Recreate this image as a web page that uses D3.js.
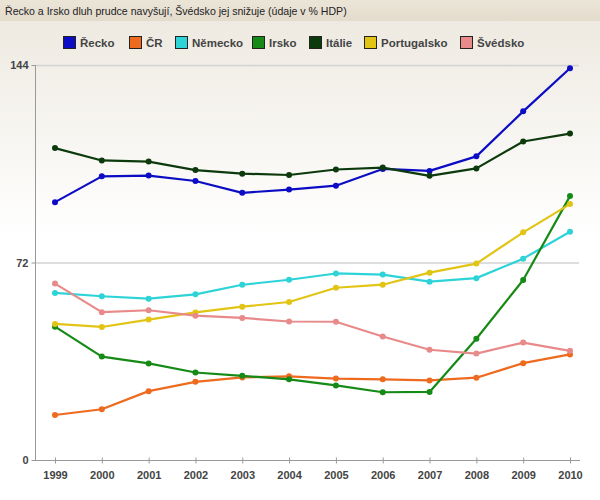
<!DOCTYPE html>
<html><head><meta charset="utf-8">
<script src="https://cdn.jsdelivr.net/npm/d3@7"></script>
<style>body{margin:0;padding:0;background:#fff}svg{display:block}</style>
</head><body>
<script>
const title = "Řecko a Irsko dluh prudce navyšují, Švédsko jej snižuje (údaje v % HDP)";
const years = ["1999","2000","2001","2002","2003","2004","2005","2006","2007","2008","2009","2010"];
const yTicks = [0, 72, 144];
const seriesNames = ["Řecko","ČR","Německo","Irsko","Itálie","Portugalsko","Švédsko"];
const seriesColors = ["#0c0cc4","#ee6a1e","#2ed3d8","#168a16","#0c3a0c","#e2c414","#e88a8a"];
const greece   = [94.0,103.4,103.7,101.7,97.4,98.6,100.0,106.1,105.4,110.7,127.1,142.8];
const czech    = [16.4,18.5,25.1,28.5,30.1,30.5,29.7,29.4,29.0,30.0,35.3,38.5];
const germany  = [60.9,59.7,58.8,60.4,63.9,65.7,68.0,67.6,65.0,66.3,73.4,83.2];
const ireland  = [48.6,37.7,35.2,31.9,30.7,29.4,27.2,24.7,24.8,44.2,65.6,96.2];
const italy    = [113.7,109.2,108.8,105.7,104.4,103.9,105.9,106.6,103.6,106.3,116.1,119.0];
const portugal = [49.6,48.5,51.2,53.8,55.9,57.6,62.8,63.9,68.3,71.6,83.0,93.3];
const sweden   = [64.3,53.9,54.6,52.6,51.8,50.5,50.4,45.0,40.2,38.8,42.8,39.8];
const seriesValues = [greece, czech, germany, ireland, italy, portugal, sweden];

const W = 600, H = 500;
const svg = d3.select("body").append("svg").attr("width", W).attr("height", H);
const defs = svg.append("defs");
const g1 = defs.append("linearGradient").attr("id","bg").attr("x1",0).attr("y1",0).attr("x2",0).attr("y2",1);
g1.append("stop").attr("offset","0%").attr("stop-color","#eeeae1");
g1.append("stop").attr("offset","45%").attr("stop-color","#ffffff");
g1.append("stop").attr("offset","100%").attr("stop-color","#ffffff");
const g2 = defs.append("linearGradient").attr("id","tb").attr("x1",0).attr("y1",0).attr("x2",0).attr("y2",1);
g2.append("stop").attr("offset","0%").attr("stop-color","#ebe5d8");
g2.append("stop").attr("offset","100%").attr("stop-color","#e3dbcc");

svg.append("rect").attr("x",0).attr("y",21).attr("width",W).attr("height",H-21).attr("fill","url(#bg)");
svg.append("rect").attr("x",0).attr("y",0).attr("width",W).attr("height",21).attr("fill","url(#tb)");
const tt = svg.append("text").attr("x",5).attr("y",15)
  .attr("font-family","Liberation Sans, Arial, sans-serif").attr("font-size",12).attr("fill","#222")
  .text(title);
const tl = tt.node().getComputedTextLength();
if (tl > 0) tt.attr("font-size", (12 * 342 / tl).toFixed(2));

// legend
const legendX = [63, 129, 175, 252, 309, 364, 460];
const lg = svg.append("g").attr("font-family","Liberation Sans, Arial, sans-serif")
  .attr("font-size",11.5).attr("font-weight","bold").attr("fill","#444");
seriesNames.forEach((n,i)=>{
  lg.append("rect").attr("x",legendX[i]+0.5).attr("y",36.5).attr("width",12).attr("height",12)
    .attr("fill",seriesColors[i]).attr("stroke","#222").attr("stroke-width",1);
  lg.append("text").attr("x",legendX[i]+17).attr("y",47).text(n);
});

const x = d3.scalePoint().domain(years).range([55, 570]);
const y = d3.scaleLinear().domain([0,144]).range([460, 65]);

// gridlines
svg.append("g").selectAll("line").data(yTicks.filter(d=>d>0)).join("line")
  .attr("x1",35).attr("x2",579).attr("y1",d=>y(d)+0.5).attr("y2",d=>y(d)+0.5)
  .attr("stroke","#d2d2d2").attr("stroke-width",1.5);

// y axis
const yAxis = d3.axisLeft(y).tickValues(yTicks).tickSize(4).tickPadding(3);
const ya = svg.append("g").attr("transform","translate(35.5,0)").call(yAxis);
ya.select(".domain").attr("stroke","#999").attr("d","M0,65V460");
ya.selectAll(".tick line").attr("stroke","#999");
ya.selectAll(".tick text").attr("font-family","Liberation Sans, Arial, sans-serif")
  .attr("font-size",11).attr("font-weight","bold").attr("fill","#444");

// x axis
const xAxis = d3.axisBottom(x).tickSize(3).tickPadding(8);
const xa = svg.append("g").attr("transform","translate(0,460.5)").call(xAxis);
xa.select(".domain").attr("stroke","#999").attr("d","M33,0H580");
xa.selectAll(".tick line").attr("stroke","#999").attr("y1",-3).attr("y2",3);
xa.selectAll(".tick text").attr("font-family","Liberation Sans, Arial, sans-serif")
  .attr("font-size",11).attr("font-weight","bold").attr("fill","#444");

// lines
const line = d3.line().x((d,i)=>x(years[i])).y(d=>y(d));
seriesValues.forEach((vals,i)=>{
  const gg = svg.append("g");
  gg.append("path").datum(vals).attr("d",line).attr("fill","none")
    .attr("stroke",seriesColors[i]).attr("stroke-width",2.2).attr("stroke-linejoin","round");
  gg.selectAll("circle").data(vals).join("circle")
    .attr("cx",(d,j)=>x(years[j])).attr("cy",d=>y(d)).attr("r",3)
    .attr("fill",seriesColors[i]);
});
</script>
</body></html>
